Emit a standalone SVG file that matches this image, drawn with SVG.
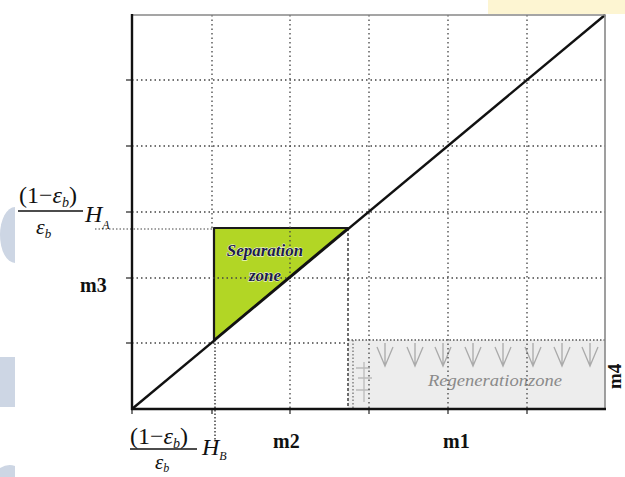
<svg xmlns="http://www.w3.org/2000/svg" width="625" height="477" viewBox="0 0 625 477">
<style>
.grid{stroke:#444;stroke-width:1.3;stroke-dasharray:1.5 3;fill:none}
.tick{stroke:#222;stroke-width:1.2}
.axis{stroke:#111;stroke-width:2.4;fill:none}
.frame{stroke:#888;stroke-width:1.6;fill:none}
.serif{font-family:"Liberation Serif","Times New Roman",serif;fill:#111}
.it{font-style:italic}
.bold{font-weight:bold}
.arr{stroke:#aaa;stroke-width:1.3;fill:none}
.wm{fill:#cdd6e4}
.sep{font-family:"Liberation Serif","Times New Roman",serif;font-style:italic;font-weight:bold;font-size:17px;fill:#1c1c4a;stroke:#ffffff;stroke-width:0.8;paint-order:stroke}
</style>
<rect width="625" height="477" fill="#ffffff"/>
<rect x="488" y="0" width="137" height="14" fill="#fdf5d2"/>
<g id="watermark">
<path class="wm" d="M15,207 A15,28 0 0 0 15,263 Z"/>
<rect class="wm" x="0" y="357" width="15" height="50"/>
<path class="wm" d="M0,468 Q8,463 15,466 L15,477 L0,477 Z"/>
</g>
<g id="regeneration-zone">
<rect x="348" y="340" width="257" height="69" fill="#ededed"/>
<line x1="348" y1="340" x2="605" y2="340" stroke="#555" stroke-width="1.3" stroke-dasharray="1.5 2"/>
<line x1="353" y1="340" x2="353" y2="409" stroke="#666" stroke-width="1.2" stroke-dasharray="1.5 2"/>
<g class="arr">
<path d="M377,347 L385,366 L393,347 M385,343 V366"/>
<path d="M407,347 L415,366 L423,347 M415,343 V366"/>
<path d="M435,347 L443,366 L451,347 M443,343 V366"/>
<path d="M465,347 L473,366 L481,347 M473,343 V366"/>
<path d="M495,347 L503,366 L511,347 M503,343 V366"/>
<path d="M525,347 L533,366 L541,347 M533,343 V366"/>
<path d="M554,347 L562,366 L570,347 M562,343 V366"/>
<path d="M582,347 L590,366 L598,347 M590,343 V366"/>
<path d="M356,368 H370 M358,378 H372 M356,390 H370 M364,362 V402" stroke="#bbb"/>
</g>
<text class="serif it" x="428" y="386" font-size="17" style="fill:#8a8a8a" textLength="134" lengthAdjust="spacingAndGlyphs">Regenerationzone</text>
</g>
<g id="separation-zone">
<polygon points="214,228 348,228 214,340" fill="#b2d625" stroke="#1a1a1a" stroke-width="2.2" stroke-linejoin="round"/>
</g>
<g id="grid">
<line class="grid" x1="132" y1="80" x2="605" y2="80"/>
<line class="grid" x1="132" y1="146" x2="605" y2="146"/>
<line class="grid" x1="132" y1="212" x2="605" y2="212"/>
<line class="grid" x1="132" y1="278" x2="605" y2="278"/>
<line class="grid" x1="132" y1="343" x2="348" y2="343"/>
<line class="grid" x1="212" y1="15" x2="212" y2="228"/>
<line class="grid" x1="290" y1="15" x2="290" y2="409"/>
<line class="grid" x1="369" y1="15" x2="369" y2="409"/>
<line class="grid" x1="448" y1="15" x2="448" y2="409"/>
<line class="grid" x1="527" y1="15" x2="527" y2="409"/>
<line class="tick" x1="126" y1="80" x2="132" y2="80"/>
<line class="tick" x1="126" y1="146" x2="132" y2="146"/>
<line class="tick" x1="126" y1="212" x2="132" y2="212"/>
<line class="tick" x1="126" y1="278" x2="132" y2="278"/>
<line class="tick" x1="126" y1="343" x2="132" y2="343"/>
<line class="tick" x1="212" y1="409" x2="212" y2="414"/>
<line class="tick" x1="290" y1="409" x2="290" y2="414"/>
<line class="tick" x1="369" y1="409" x2="369" y2="414"/>
<line class="tick" x1="448" y1="409" x2="448" y2="414"/>
<line class="tick" x1="527" y1="409" x2="527" y2="414"/>
<line class="tick" x1="132" y1="409" x2="132" y2="414"/>
</g>
<g id="connectors">
<line x1="95" y1="229" x2="214" y2="229" stroke="#444" stroke-width="1.2" stroke-dasharray="1.5 2"/>
<line x1="215" y1="340" x2="215" y2="442" stroke="#333" stroke-width="1.4" stroke-dasharray="1.5 2"/>
<line x1="348" y1="228" x2="348" y2="409" stroke="#333" stroke-width="1.4" stroke-dasharray="3 2"/>
<line x1="132" y1="409" x2="605" y2="15" stroke="#111" stroke-width="2.4"/>
</g>
<g id="frame">
<polyline class="frame" points="132,15 605,15 605,409"/>
<line class="axis" x1="132" y1="14" x2="132" y2="410"/>
<line class="axis" x1="131" y1="409" x2="606" y2="409"/>
</g>
<g id="separation-label">
<text class="sep" x="265" y="256" text-anchor="middle">Separation</text>
<text class="sep" x="265" y="281" text-anchor="middle">zone</text>
</g>
<g id="label-HA">
<text class="serif" x="19" y="203" font-size="24">(1−<tspan class="it">ε</tspan><tspan class="it" font-size="14" dy="4">b</tspan><tspan dy="-4">)</tspan></text>
<line x1="18" y1="211" x2="83" y2="211" stroke="#111" stroke-width="1.3"/>
<text class="serif" x="36" y="234" font-size="22"><tspan class="it">ε</tspan><tspan class="it" font-size="13" dy="4">b</tspan></text>
<text class="serif" x="85" y="222" font-size="24"><tspan class="it">H</tspan><tspan class="it" font-size="12" dy="7">A</tspan></text>
</g>
<g id="label-HB">
<text class="serif" x="130" y="444" font-size="24">(1−<tspan class="it">ε</tspan><tspan class="it" font-size="14" dy="4">b</tspan><tspan dy="-4">)</tspan></text>
<line x1="130" y1="449" x2="197" y2="449" stroke="#111" stroke-width="1.3"/>
<text class="serif" x="155" y="469" font-size="21"><tspan class="it">ε</tspan><tspan class="it" font-size="12" dy="3">b</tspan></text>
<text class="serif" x="202" y="455" font-size="24"><tspan class="it">H</tspan><tspan class="it" font-size="12" dy="5">B</tspan></text>
</g>
<g id="axis-labels">
<text class="serif bold" x="80" y="292" font-size="20">m3</text>
<text class="serif bold" x="273" y="448" font-size="20">m2</text>
<text class="serif bold" x="443" y="448" font-size="20">m1</text>
<text class="serif bold" font-size="19" transform="translate(621,389) rotate(-90)">m4</text>
</g>
</svg>
